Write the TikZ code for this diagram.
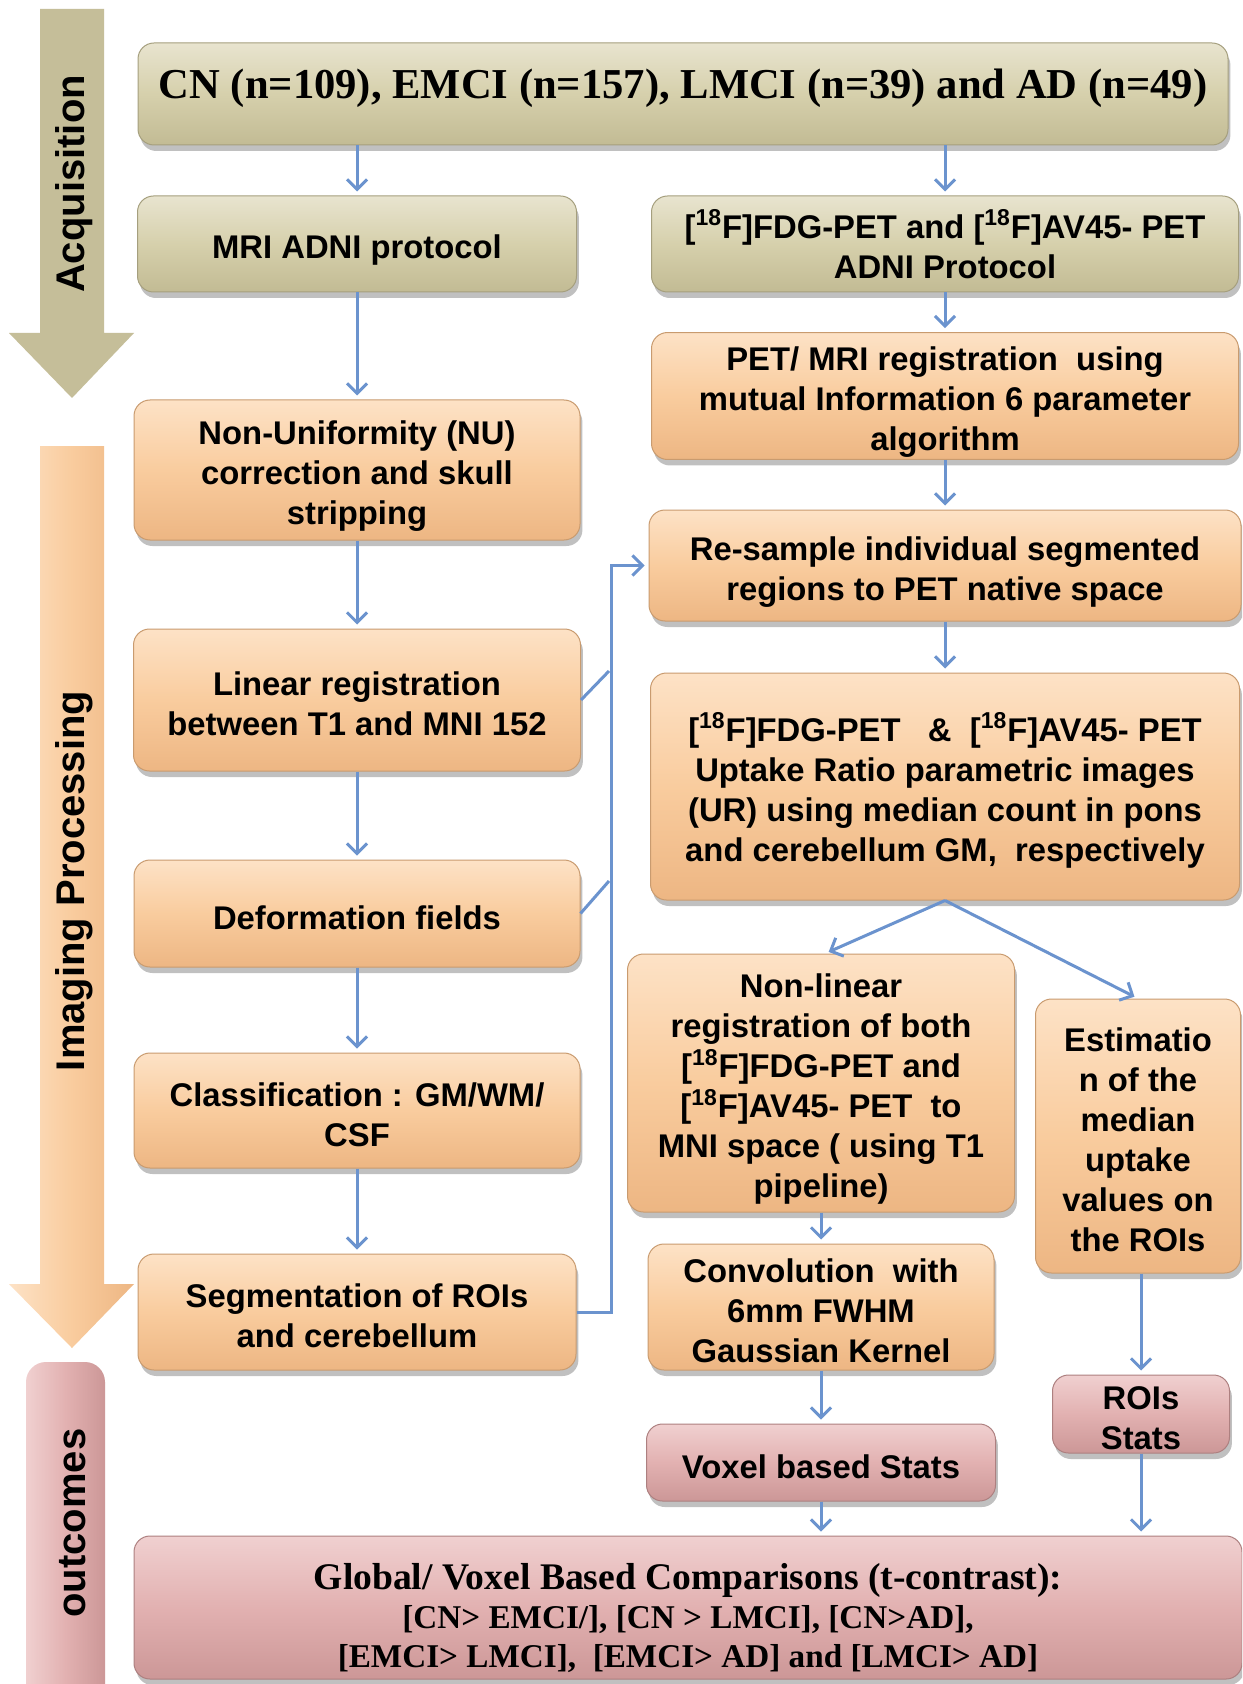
\documentclass[tikz,border=0pt]{standalone}
\usepackage{fontspec}
\setmainfont{Liberation Sans}
\newfontfamily\tnr{Liberation Serif}
\usetikzlibrary{arrows.meta,shadows,calc}
\definecolor{tanA}{HTML}{E8E4CF}
\definecolor{tanB}{HTML}{D6D0AC}
\definecolor{tanC}{HTML}{C2BB94}
\definecolor{peaA}{HTML}{FDE2C6}
\definecolor{peaB}{HTML}{F9CC9E}
\definecolor{peaC}{HTML}{EDB683}
\definecolor{pinA}{HTML}{F0D0D0}
\definecolor{pinB}{HTML}{E2B1B1}
\definecolor{pinC}{HTML}{CC9797}
\definecolor{acqcol}{HTML}{C5BE99}
\definecolor{arrblue}{HTML}{6B93CE}
\newcommand\bxf{\bfseries\fontsize{16.4}{20}\selectfont}
\newcommand\sdf{\bfseries\fontsize{20}{24}\selectfont}
\newcommand\fe{{[}\textsuperscript{18}F]}
\newcommand\sta{\rule{0pt}{16pt}}
\newcommand\stb{\rule{0pt}{18pt}}
\tikzset{
  box/.style={rounded corners=8pt, align=center, font=\bxf, inner sep=1pt,
    line width=0.5pt,
    drop shadow={shadow xshift=1.2pt, shadow yshift=-3pt, opacity=0.35, fill=black!70}},
  tanbox/.style={box, top color=tanA, bottom color=tanC, middle color=tanB, draw=tanC!85!black},
  peabox/.style={box, top color=peaA, bottom color=peaC, middle color=peaB, draw=peaC!85!black},
  pinbox/.style={box, top color=pinA, bottom color=pinC, middle color=pinB, draw=pinC!85!black},
  conn/.style={draw=arrblue, line width=1.5pt, shorten >=2pt,
    -{Straight Barb[length=5pt,width=10pt,line width=1.5pt]}},
  plain/.style={draw=arrblue, line width=1.5pt},
  side/.style={rotate=90, font=\sdf}
}
\begin{document}
\begin{tikzpicture}[x=0.5pt,y=-0.5pt]
\useasboundingbox (0,0) rectangle (1242,1684);
\clip (0,0) rectangle (1242,1684);
\fill[white] (0,0) rectangle (1242,1684);

% side arrows
\fill[acqcol] (40,9) -- (104,9) -- (104,333) -- (134,333) -- (72,398) -- (9,333) -- (40,333) -- cycle;
\node[side] (acqlab) at (74,184) {Acquisition};
\shade[left color=peaA, right color=peaC, middle color=peaB]
  (40,446) -- (104,446) -- (104,1284) -- (134,1284) -- (72,1348) -- (9,1284) -- (40,1284) -- cycle;
\node[side] (implab) at (74,881) {Imaging Processing};
\shade[rounded corners=10pt, left color=pinA, right color=pinC, middle color=pinB]
  (26,1362) rectangle (105,1720);
\node[side] (outlab) at (73,1523) {outcomes};

% boxes
\node[tanbox, minimum width=545pt, minimum height=51pt, font=\tnr\bfseries\fontsize{21.3}{24}\selectfont] (cn) at (683,94)
  {\rule[-10pt]{0pt}{1pt}CN (n=109), EMCI (n=157), LMCI (n=39) and AD (n=49)};
\node[tanbox, minimum width=219.5pt, minimum height=48pt] (mri) at (357,244) {\stb MRI ADNI protocol};
\node[tanbox, minimum width=293.5pt, minimum height=48pt] (fdg) at (945,244) {\fe FDG-PET and \fe AV45- PET\\ADNI Protocol};
\node[peabox, minimum width=293.5pt, minimum height=61pt] (pm) at (945,396) {\stb PET/ MRI registration\ \ using\\mutual Information 6 parameter\\algorithm};
\node[peabox, minimum width=223pt, minimum height=70pt] (nu) at (357,470) {\stb Non-Uniformity (NU)\\correction and skull\\stripping};
\node[peabox, minimum width=296pt, minimum height=55.5pt] (rs) at (945,565.5) {\stb Re-sample individual segmented\\regions to PET native space};
\node[peabox, minimum width=223.5pt, minimum height=71pt] (lin) at (357,700) {\sta Linear registration\\between T1 and MNI 152};
\node[peabox, minimum width=294.5pt, minimum height=113.5pt] (up) at (945,786.5) {\stb\fe FDG-PET\ \ \ \&\ \ \fe AV45- PET\\Uptake Ratio parametric images\\(UR) using median count in pons\\and cerebellum GM,\ \ respectively};
\node[peabox, minimum width=223pt, minimum height=53.5pt] (def) at (357,913.5) {\sta Deformation fields};
\node[peabox, minimum width=193.5pt, minimum height=129pt] (nl) at (821,1083) {\stb Non-linear\\registration of both\\\fe FDG-PET and\\\fe AV45- PET\ \ to\\MNI space ( using T1\\pipeline)};
\node[peabox, minimum width=102.5pt, minimum height=137pt] (est) at (1138,1136) {\sta Estimatio\\n of the\\median\\uptake\\values on\\the ROIs};
\node[peabox, minimum width=223pt, minimum height=57.5pt] (cls) at (357,1110.5) {\sta Classification : GM/WM/\\CSF};
\node[peabox, minimum width=173pt, minimum height=63pt] (cv) at (821,1307) {\sta Convolution\ \ with\\6mm FWHM\\Gaussian Kernel};
\node[peabox, minimum width=219pt, minimum height=58pt] (seg) at (357,1312) {\sta Segmentation of ROIs\\and cerebellum};
\node[pinbox, minimum width=88.5pt, minimum height=39pt] (roi) at (1141,1414) {\sta ROIs\\Stats};
\node[pinbox, minimum width=174.5pt, minimum height=38.5pt] (vox) at (821,1462.5) {\sta Voxel based Stats};
\node[pinbox, minimum width=554pt, minimum height=71.5pt, font=\tnr\bfseries\fontsize{16.6}{19.5}\selectfont] (gl) at (688,1607.5)
  {{\fontsize{18.8}{21}\selectfont\rule{0pt}{24pt}Global/ Voxel Based Comparisons (t-contrast):}\\
   {[}CN> EMCI/], [CN > LMCI], [CN>AD],\\
   {[}EMCI> LMCI],\ \ [EMCI> AD] and [LMCI> AD]};

% connectors
\draw[conn] (cn.south -| mri.north) -- (mri.north);
\draw[conn] (cn.south -| fdg.north) -- (fdg.north);
\draw[conn] (mri.south) -- (nu.north);
\draw[conn] (fdg.south) -- (pm.north);
\draw[conn] (pm.south) -- (rs.north);
\draw[conn] (nu.south) -- (lin.north);
\draw[conn] (rs.south) -- (up.north);
\draw[conn] (lin.south) -- (def.north);
\draw[conn] (def.south) -- (cls.north);
\draw[conn] (cls.south) -- (seg.north);
\draw[conn] (up.south) -- ($(nl.north)+(4,0)$);
\draw[conn] (up.south) -- (est.north);
\draw[conn] (nl.south) -- (cv.north);
\draw[conn] (cv.south) -- (vox.north);
\draw[conn] (roi.north |- est.south) -- (roi.north);
\draw[conn] (vox.south) -- (vox.south |- gl.north);
\draw[conn] (roi.south) -- (roi.south |- gl.north);
\coordinate (j1) at (609,671);
\coordinate (j2) at (609,881);
\draw[conn] (seg.east) -- ++(35,0) |- (rs.west);
\draw[plain] (lin.east) -- (j1);
\draw[plain] (def.east) -- (j2);
\end{tikzpicture}
\end{document}
